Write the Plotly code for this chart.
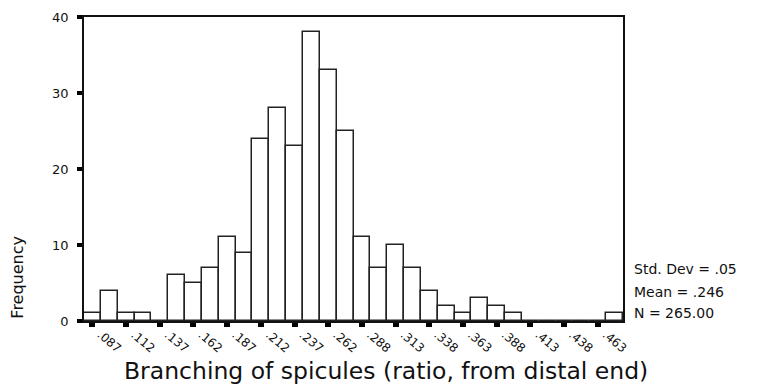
import plotly.graph_objects as go

# Histogram data (bin width 0.0125, first bin centred at .0875)
bin_start = 0.08125
bin_width = 0.0125
counts = [1, 4, 1, 1, 0, 6, 5, 7, 11, 9, 24, 28, 23, 38, 33, 25,
          11, 7, 10, 7, 4, 2, 1, 3, 2, 1, 0, 0, 0, 0, 0, 1]
tick_labels = [".087", ".112", ".137", ".162", ".187", ".212", ".237", ".262",
               ".288", ".313", ".338", ".363", ".388", ".413", ".438", ".463"]
y_ticks = [0, 10, 20, 30, 40]
stats_lines = ["Std. Dev = .05", "Mean = .246", "N = 265.00"]
x_title = "Branching of spicules (ratio, from distal end)"
y_title = "Frequency"

centers = [bin_start + bin_width * (i + 0.5) for i in range(len(counts))]
tick_vals = [centers[2 * i] for i in range(len(tick_labels))]
x_range = [bin_start, bin_start + bin_width * len(counts)]
# labels sit slightly right of their tick mark (as in the SPSS original)
label_shift = 0.47 * bin_width
label_vals = [v + label_shift for v in tick_vals]

FONT = "DejaVu Sans, Verdana, sans-serif"
INK = "#111111"

fig = go.Figure()
fig.add_trace(go.Bar(
    x=centers, y=counts, width=bin_width,
    marker=dict(color="white", line=dict(color="#222222", width=1.5)),
    showlegend=False, hoverinfo="x+y",
))
# empty trace so the overlaid label axis gets drawn
fig.add_trace(go.Scatter(x=[], y=[], xaxis="x2", yaxis="y",
                         showlegend=False, hoverinfo="skip"))

fig.update_layout(
    width=768, height=387,
    margin=dict(l=84, r=145, t=10, b=66),
    paper_bgcolor="white", plot_bgcolor="white",
    font=dict(family=FONT, color=INK),
    bargap=0,
    xaxis=dict(
        range=x_range,
        tickvals=tick_vals, showticklabels=False,
        ticks="outside", ticklen=4, tickwidth=6, tickcolor="black",
        showline=True, linecolor=INK, linewidth=1.5, mirror=True,
        showgrid=False, zeroline=False,
    ),
    xaxis2=dict(
        range=x_range, overlaying="x", anchor="y", side="bottom",
        tickvals=label_vals, ticktext=tick_labels,
        tickangle=40, tickfont=dict(size=12, family=FONT, color=INK),
        ticks="outside", ticklen=4, tickwidth=1, tickcolor="rgba(0,0,0,0)",
        ticklabelstandoff=-3,
        showline=False, showgrid=False, zeroline=False,
    ),
    yaxis=dict(
        range=[0, 40], tickvals=y_ticks,
        tickfont=dict(size=13, family=FONT, color=INK),
        ticks="outside", ticklen=5, tickwidth=4, tickcolor="black",
        ticklabelstandoff=6,
        showline=True, linecolor=INK, linewidth=1.5, mirror=True,
        showgrid=False, zeroline=False,
    ),
)

fig.add_annotation(
    text=x_title, xref="paper", yref="paper", x=0.56, y=-0.166,
    xanchor="center", yanchor="middle", showarrow=False,
    font=dict(size=23.5, family=FONT, color=INK),
)
fig.add_annotation(
    text=y_title, xref="paper", yref="paper", x=-0.124, y=0.0,
    xanchor="center", yanchor="bottom", textangle=-90, showarrow=False,
    font=dict(size=16, family=FONT, color=INK),
)
stat_y = [0.170, 0.0965, 0.026]
for line, yy in zip(stats_lines, stat_y):
    fig.add_annotation(
        text=line, xref="paper", yref="paper", x=1.0167, y=yy,
        xanchor="left", yanchor="middle", showarrow=False,
        font=dict(size=14, family=FONT, color=INK),
    )

fig.write_html("out.html")
